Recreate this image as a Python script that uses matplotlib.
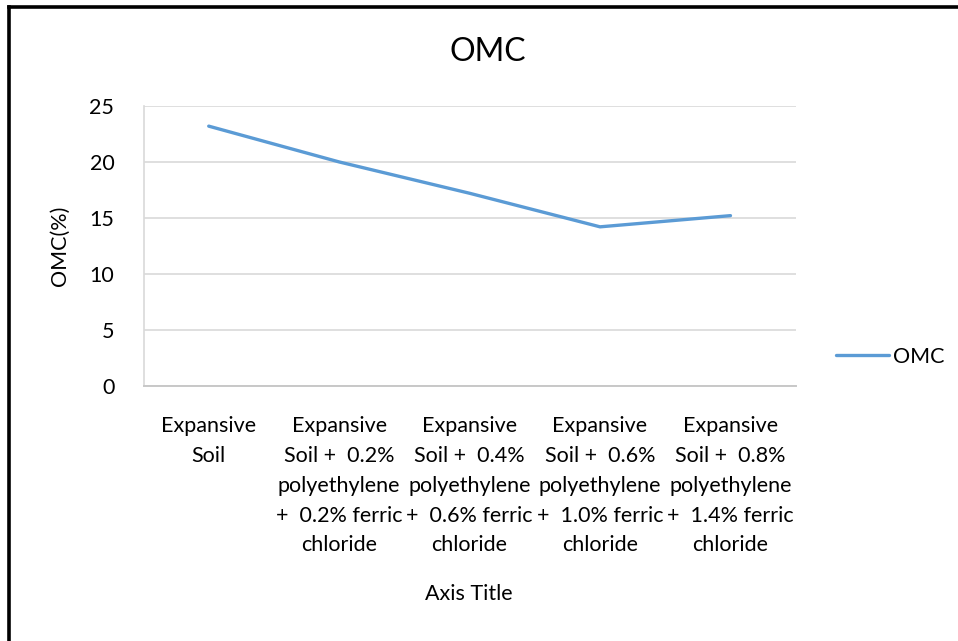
"""OMC of treated expansive soil, redrawn in an Excel-like style."""
import matplotlib

matplotlib.use("Agg")

import matplotlib.pyplot as plt  # noqa: E402
from matplotlib.lines import Line2D  # noqa: E402

# --------------------------------------------------------------------------- #
# Data
# --------------------------------------------------------------------------- #
categories = [
    "Expansive\nSoil",
    "Expansive\nSoil +  0.2%\npolyethylene\n+  0.2% ferric\nchloride",
    "Expansive\nSoil +  0.4%\npolyethylene\n+  0.6% ferric\nchloride",
    "Expansive\nSoil +  0.6%\npolyethylene\n+  1.0% ferric\nchloride",
    "Expansive\nSoil +  0.8%\npolyethylene\n+  1.4% ferric\nchloride",
]
omc = [23.2, 20.0, 17.2, 14.2, 15.2]
y_ticks = [0, 5, 10, 15, 20, 25]

LINE_BLUE = "#5B9BD5"
GRID = "#D9D9D9"
FONT = ["Lato", "DejaVu Sans"]
FS = 15.5

plt.rcParams["font.family"] = FONT

W, H = 958, 641
fig = plt.figure(figsize=(W / 100, H / 100), dpi=100)

# plot area in pixel terms
left, right, top, bottom = 143.5, 795.7, 106.0, 385.7
ax = fig.add_axes([left / W, 1 - bottom / H, (right - left) / W, (bottom - top) / H])

x = list(range(len(categories)))
line, = ax.plot(x, omc, color=LINE_BLUE, lw=2.4, solid_capstyle="round", label="OMC")

ax.set_xlim(-0.5, len(categories) - 0.5)
ax.set_ylim(0, 25)
ax.set_yticks(y_ticks)
ax.set_yticklabels([str(t) for t in y_ticks])
ax.set_xticks(x)
ax.set_xticklabels(categories, linespacing=1.61, va="top")
ax.tick_params(axis="both", length=0, labelsize=FS, colors="black")
ax.tick_params(axis="x", pad=22)
ax.tick_params(axis="y", pad=21)

ax.grid(axis="y", color=GRID, lw=1.2)
ax.set_axisbelow(True)
for side in ("top", "right"):
    ax.spines[side].set_visible(False)
ax.spines["left"].set_color(GRID)
ax.spines["bottom"].set_color("#C8C8C8")
ax.spines["left"].set_linewidth(1.2)
ax.spines["bottom"].set_linewidth(1.4)

# titles, placed like the Excel chart
fig.text(488 / W, 1 - 52 / H, "OMC", ha="center", va="center", fontsize=23)
fig.text(60 / W, 1 - 246 / H, "OMC(%)", ha="center", va="center",
         rotation=90, fontsize=FS)
fig.text(469 / W, 1 - 594 / H, "Axis Title", ha="center", va="center", fontsize=FS)

# legend on the right
fig.legend(handles=[line], labels=["OMC"], loc="center left",
           bbox_to_anchor=(836 / W, 1 - 357 / H), frameon=False,
           borderaxespad=0, borderpad=0,
           fontsize=FS, handlelength=2.45, handletextpad=0.2)

# chart-area frame (runs off the right and bottom edges)
frame_kw = dict(color="black", lw=2.6, transform=fig.transFigure, clip_on=False)
fig.add_artist(Line2D([9 / W, 9 / W], [1 - 7 / H, -0.05], **frame_kw))
fig.add_artist(Line2D([9 / W, 1.05], [1 - 7 / H, 1 - 7 / H], **frame_kw))

fig.savefig("out.png", dpi=100)
